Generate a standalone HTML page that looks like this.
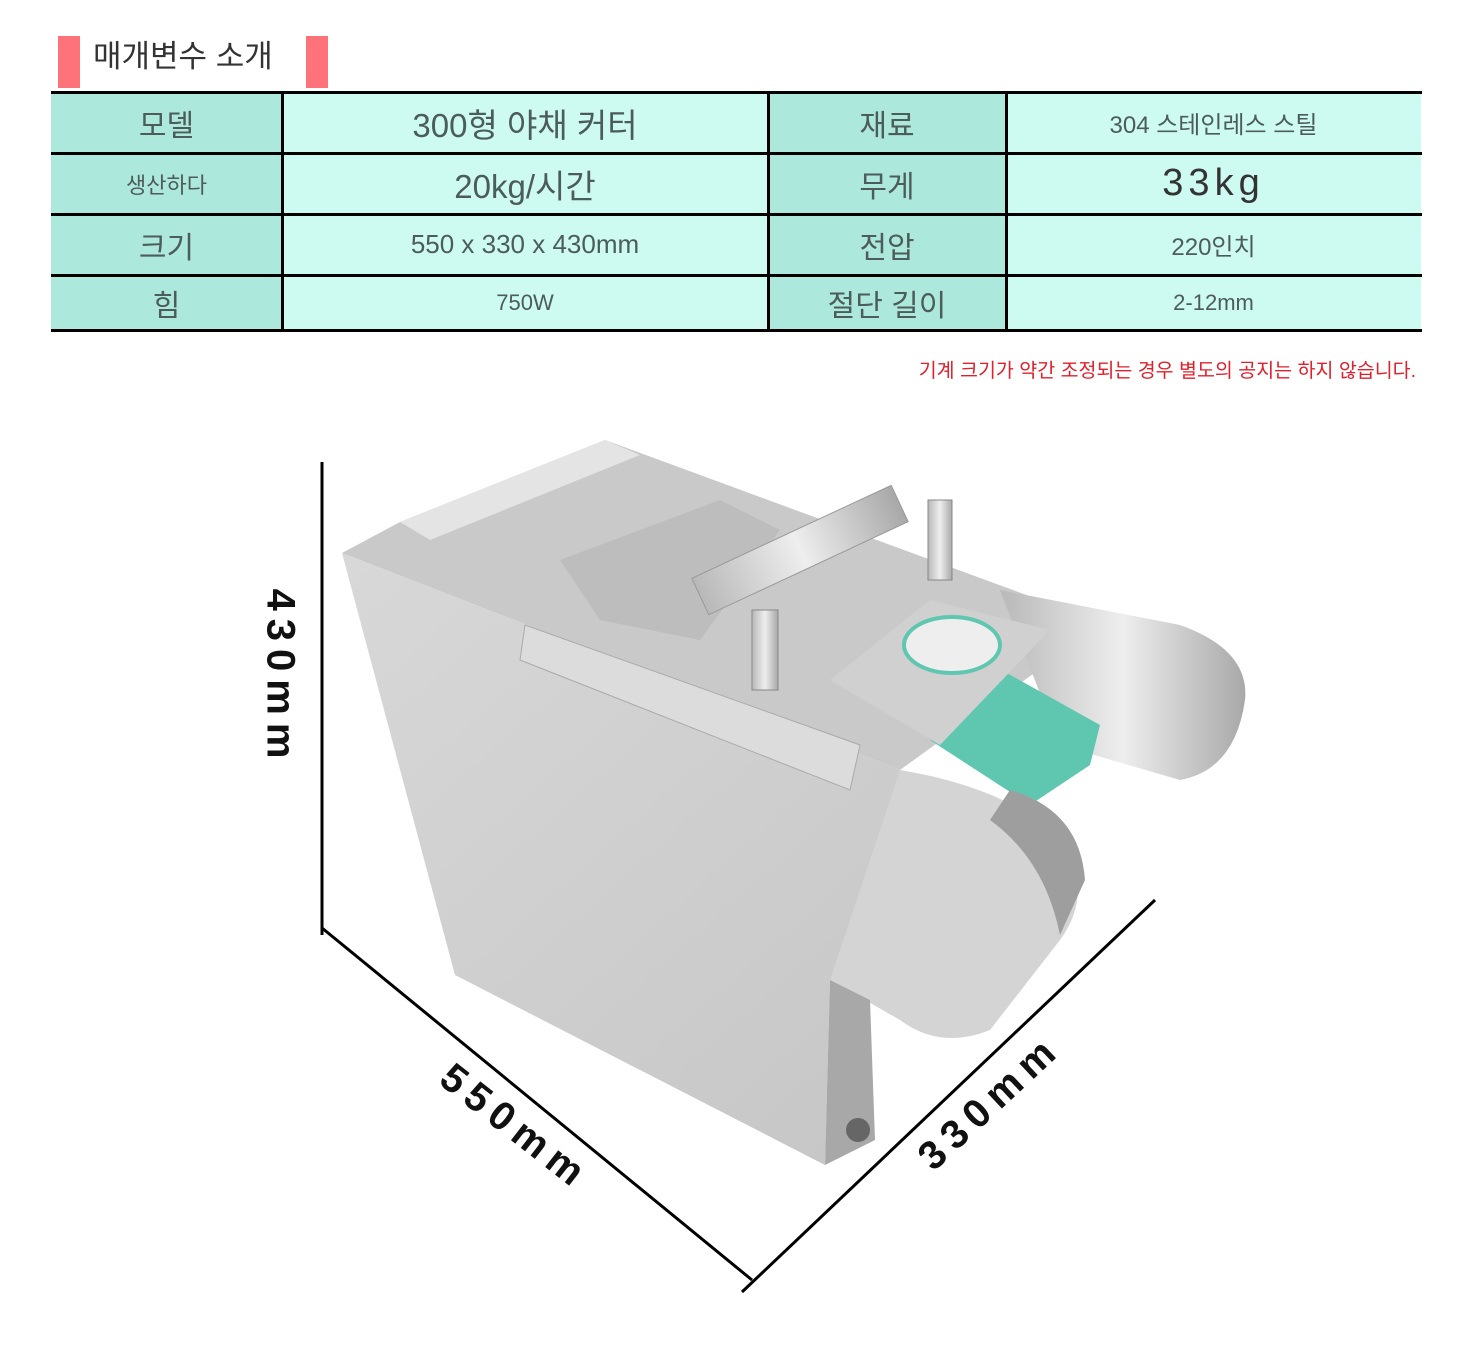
<!DOCTYPE html>
<html><head><meta charset="utf-8">
<style>
body{margin:0;width:1481px;height:1347px;background:#fff;position:relative;overflow:hidden;font-family:"Liberation Sans","Noto Sans CJK KR",sans-serif;color:#4c5c5a}
.a{position:absolute}
.c{position:absolute;display:flex;align-items:center;justify-content:center}
.l{background:#ade8dc}
.v{background:#cdfaf1}
.h{position:absolute;background:#000}
.dim{position:absolute;font-weight:bold;font-size:40px;color:#111;letter-spacing:8px;white-space:nowrap}
</style></head><body>
<div class="a" style="left:58px;top:36px;width:22px;height:52px;background:#fd7379"></div>
<div class="a" style="left:306px;top:36px;width:22px;height:52px;background:#fd7379"></div>
<div class="a" style="left:93px;top:36px;font-size:31px;color:#333;line-height:42px">매개변수 소개</div>

<div class="c l" style="left:51px;top:92px;width:231px;height:61px;font-size:30px">모델</div>
<div class="c v" style="left:282px;top:92px;width:486px;height:61px;font-size:33px">300형 야채 커터</div>
<div class="c l" style="left:768px;top:92px;width:238px;height:61px;font-size:30px">재료</div>
<div class="c v" style="left:1006px;top:92px;width:415px;height:61px;font-size:24px">304 스테인레스 스틸</div>

<div class="c l" style="left:51px;top:153px;width:231px;height:61px;font-size:22px">생산하다</div>
<div class="c v" style="left:282px;top:153px;width:486px;height:61px;font-size:33px">20kg/시간</div>
<div class="c l" style="left:768px;top:153px;width:238px;height:61px;font-size:30px">무게</div>
<div class="c v" style="left:1006px;top:153px;width:415px;height:61px;font-size:38px;letter-spacing:5px;color:#333">33kg</div>

<div class="c l" style="left:51px;top:214px;width:231px;height:61px;font-size:30px">크기</div>
<div class="c v" style="left:282px;top:214px;width:486px;height:61px;font-size:26px">550 x 330 x 430mm</div>
<div class="c l" style="left:768px;top:214px;width:238px;height:61px;font-size:30px">전압</div>
<div class="c v" style="left:1006px;top:214px;width:415px;height:61px;font-size:24px">220인치</div>

<div class="c l" style="left:51px;top:275px;width:231px;height:56px;font-size:30px">힘</div>
<div class="c v" style="left:282px;top:275px;width:486px;height:56px;font-size:22px">750W</div>
<div class="c l" style="left:768px;top:275px;width:238px;height:56px;font-size:30px">절단 길이</div>
<div class="c v" style="left:1006px;top:275px;width:415px;height:56px;font-size:22px">2-12mm</div>

<div class="h" style="left:51px;top:91px;width:1371px;height:3px"></div>
<div class="h" style="left:51px;top:152px;width:1371px;height:3px"></div>
<div class="h" style="left:51px;top:213px;width:1371px;height:3px"></div>
<div class="h" style="left:51px;top:274px;width:1371px;height:3px"></div>
<div class="h" style="left:51px;top:329px;width:1371px;height:3px"></div>
<div class="h" style="left:281px;top:92px;width:3px;height:239px"></div>
<div class="h" style="left:767px;top:92px;width:3px;height:239px"></div>
<div class="h" style="left:1005px;top:92px;width:3px;height:239px"></div>

<div class="a" style="right:65px;top:354px;font-size:19.5px;color:#e0202a">기계 크기가 약간 조정되는 경우 별도의 공지는 하지 않습니다.</div>

<svg class="a" style="left:0;top:0" width="1481" height="1347">
<defs>
<linearGradient id="g1" x1="0" y1="0" x2="1" y2="1"><stop offset="0" stop-color="#d8d8d8"/><stop offset="1" stop-color="#c4c4c4"/></linearGradient>
<linearGradient id="g2" x1="0" y1="0" x2="1" y2="0"><stop offset="0" stop-color="#b8b8b8"/><stop offset=".5" stop-color="#eeeeee"/><stop offset="1" stop-color="#a8a8a8"/></linearGradient>
</defs>
<polygon points="342,553 400,522 605,440 1040,600 1080,640 900,770" fill="#c9c9c9"/>
<polygon points="400,522 605,440 640,455 430,540" fill="#e4e4e4"/>
<polygon points="560,560 720,500 780,530 700,640 600,620" fill="#bdbdbd"/>
<path d="M1000,590 L1180,625 Q1250,650 1245,700 Q1235,770 1180,780 L1060,745 Z" fill="url(#g2)"/>
<polygon points="342,553 900,770 1000,800 1030,880 830,980 825,1165 455,975" fill="url(#g1)"/>
<polygon points="525,625 860,745 850,790 520,660" fill="#dcdcdc" stroke="#aaa"/>
<polygon points="930,740 1005,672 1100,725 1090,765 1030,805" fill="#5fc7b0"/>
<path d="M900,770 Q1020,790 1070,850 Q1090,900 1060,940 L990,1030 Q940,1050 900,1020 L830,980 Z" fill="#d4d4d4"/>
<path d="M1010,790 Q1080,810 1085,880 L1060,935 Q1045,860 990,820 Z" fill="#9e9e9e"/>
<rect x="690" y="530" width="220" height="40" transform="rotate(-25 800 550)" fill="url(#g2)" stroke="#999"/>
<rect x="752" y="610" width="26" height="80" fill="url(#g2)" stroke="#888"/>
<rect x="928" y="500" width="24" height="80" fill="url(#g2)" stroke="#888"/>
<polygon points="830,680 930,600 1050,630 940,745" fill="#d0d0d0"/>
<ellipse cx="952" cy="645" rx="48" ry="28" fill="#eee" stroke="#5fc7b0" stroke-width="4"/>
<polygon points="830,980 870,1000 875,1140 825,1165" fill="#a8a8a8"/>
<circle cx="858" cy="1130" r="12" fill="#666"/>
<line x1="322" y1="462" x2="322" y2="935" stroke="#000" stroke-width="3"/>
<line x1="322" y1="928" x2="752" y2="1280" stroke="#000" stroke-width="3"/>
<line x1="742" y1="1292" x2="1155" y2="900" stroke="#000" stroke-width="3"/>
</svg>
<div class="dim" style="left:180px;top:655px;transform:rotate(90deg);transform-origin:center;width:200px;text-align:center">430mm</div>
<div class="dim" style="left:415px;top:1105px;transform:rotate(38deg);width:200px;text-align:center">550mm</div>
<div class="dim" style="left:890px;top:1080px;transform:rotate(-43deg);width:200px;text-align:center">330mm</div>
</body></html>
